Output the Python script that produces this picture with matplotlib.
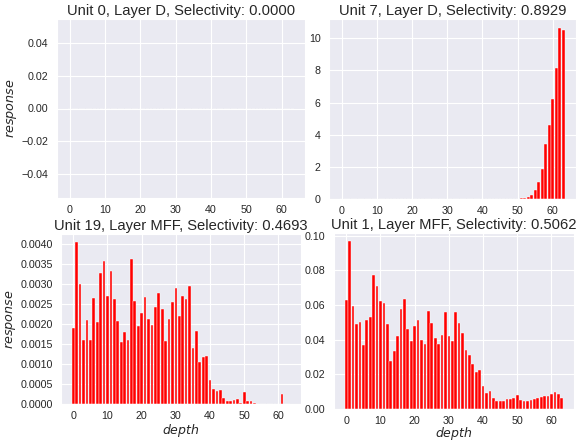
import numpy as np
import matplotlib
matplotlib.use("Agg")
import matplotlib.pyplot as plt
from matplotlib.ticker import MultipleLocator
import seaborn as sns

# --- DATA ---
depth = np.arange(64)

unit0_D = [0.0] * 64

unit7_D = [0.0] * 46 + [0.005, 0.01, 0.01, 0.02, 0.03, 0.05, 0.08, 0.13, 0.25, 0.54,
                        1.06, 1.88, 3.40, 4.63, 6.22, 8.16, 10.67, 10.5]

unit19_MFF = [0.0019, 0.00404, 0.0030, 0.0016, 0.00209, 0.00159, 0.00265, 0.00205,
              0.00327, 0.00356, 0.0027, 0.00333, 0.00263, 0.00208, 0.00155, 0.0018,
              0.0016, 0.00363, 0.00256, 0.00195, 0.00226, 0.00266, 0.00213, 0.00197,
              0.00243, 0.00278, 0.00237, 0.00158, 0.00212, 0.00255, 0.0029, 0.0022,
              0.0027, 0.00262, 0.00294, 0.00139, 0.00183, 0.00104, 0.00117, 0.00119,
              0.0006, 0.00037, 0.00033, 0.00036, 0.00014, 0.00007, 0.00007, 0.0001,
              0.00012, 0.00003, 0.00029, 0.00008, 0.00007, 0.00003, 0.0, 0.0,
              0.0, 0.0, 0.0, 0.0, 0.0, 0.00026, 0.0, 0.0]

unit1_MFF = [0.0629, 0.0967, 0.0592, 0.0493, 0.0503, 0.0371, 0.0515, 0.0532,
             0.0775, 0.0711, 0.0625, 0.0612, 0.0489, 0.0278, 0.0332, 0.0419,
             0.0579, 0.0635, 0.0464, 0.039, 0.0478, 0.0511, 0.0396, 0.0373,
             0.0565, 0.0499, 0.041, 0.0373, 0.0427, 0.0561, 0.0421, 0.039,
             0.0559, 0.0499, 0.0437, 0.0342, 0.0309, 0.0262, 0.0216, 0.0225,
             0.0132, 0.0091, 0.0101, 0.0062, 0.0047, 0.0047, 0.0047, 0.0058,
             0.0056, 0.0066, 0.0082, 0.0052, 0.0049, 0.0049, 0.0050, 0.0058,
             0.0062, 0.0072, 0.0074, 0.0076, 0.0085, 0.0099, 0.0089, 0.0062]

titles = ["Unit 0, Layer D, Selectivity: 0.0000",
          "Unit 7, Layer D, Selectivity: 0.8929",
          "Unit 19, Layer MFF, Selectivity: 0.4693",
          "Unit 1, Layer MFF, Selectivity: 0.5062"]

ystep = [0.02, 2, 0.0005, 0.02]

# --- PLOT ---
sns.set_style("darkgrid")
plt.rcParams['font.family'] = ['Liberation Sans', 'DejaVu Sans']

W, H = 578, 441
fig = plt.figure(figsize=(W / 100, H / 100), dpi=100)

# axes boxes in pixels: left, right, top, bottom
boxes = [(57, 305, 19, 198), (329, 576, 19, 199),
         (61, 301, 234, 404), (334, 574, 233, 409)]
series = [unit0_D, unit7_D, unit19_MFF, unit1_MFF]

for i, (box, vals, title) in enumerate(zip(boxes, series, titles)):
    l, r, t, b = box
    ax = fig.add_axes([l / W, (H - b) / H, (r - l) / W, (b - t) / H])
    ax.bar(depth, vals, color='red', edgecolor='white', linewidth=0.3)
    ax.set_title(title, fontsize=10.6, pad=3)
    ax.xaxis.set_major_locator(MultipleLocator(10))
    ax.yaxis.set_major_locator(MultipleLocator(ystep[i]))
    ax.tick_params(labelsize=7.7, pad=2.5)
    ax.tick_params(axis='x', pad=1.5)
    if i % 2 == 0:
        ax.set_ylabel('$response$', fontsize=9.2, labelpad=2)
    if i >= 2:
        ax.set_xlabel('$depth$', fontsize=9)
        # put the label top just under the tick labels
        ax.xaxis.set_label_coords(0.5, -(max(422, b + 16) - b) / (b - t))

fig.savefig('out.png', dpi=100)
